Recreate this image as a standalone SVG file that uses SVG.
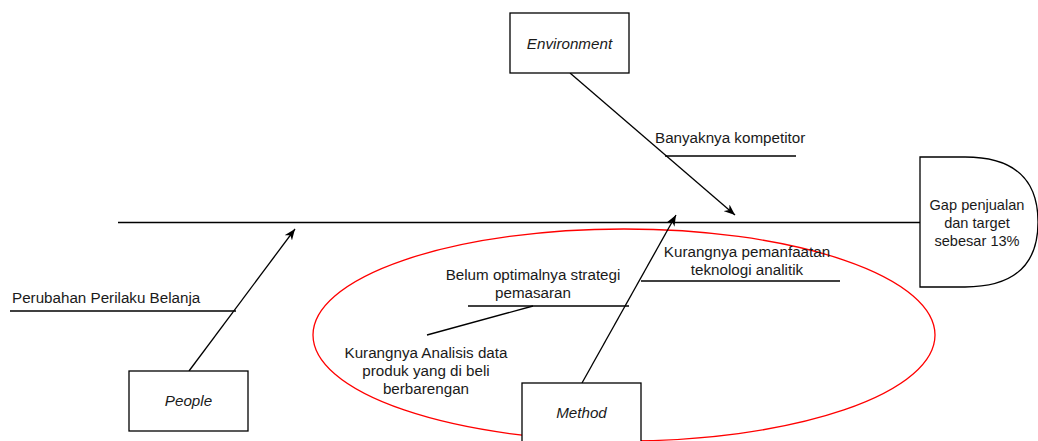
<svg xmlns="http://www.w3.org/2000/svg" width="1038" height="441" viewBox="0 0 1038 441">
  <style>
    .box { fill: #ffffff; stroke: #000000; stroke-width: 1.3; }
    .ln { fill: none; stroke: #000000; stroke-width: 1.3; }
    .arr { fill: none; stroke: #000000; stroke-width: 1.3; marker-end: url(#ah); }
    .t { font-family: "Liberation Sans", Arial, sans-serif; font-size: 15.2px; fill: #1a1a1a; }
    .c { text-anchor: middle; }
    .i { font-style: italic; }
    .ring { fill: none; stroke: #ff0000; stroke-width: 1.3; }
  </style>
  <defs>
    <marker id="ah" viewBox="0 0 10 8" refX="10" refY="4" markerWidth="11" markerHeight="9" markerUnits="userSpaceOnUse" orient="auto">
      <path d="M0,0 L10,4 L0,8 L3,4 Z" fill="#000000"/>
    </marker>
  </defs>
  <rect width="1038" height="441" fill="#ffffff"/>

  <ellipse id="focus-ring" class="ring" cx="624" cy="335" rx="311" ry="106"/>

  <g id="connectors">
    <line class="ln" x1="118" y1="222.5" x2="920" y2="222.5"/>
    <line class="arr" x1="189" y1="371" x2="295" y2="229"/>
    <line class="arr" x1="570" y1="73" x2="735" y2="215"/>
    <line class="arr" x1="582" y1="383" x2="676" y2="215"/>
    <line class="ln" x1="665" y1="156" x2="796" y2="156"/>
    <line class="ln" x1="10" y1="311" x2="236" y2="311"/>
    <line class="ln" x1="468" y1="306" x2="629" y2="306"/>
    <line class="ln" x1="533" y1="306" x2="427" y2="335"/>
    <line class="ln" x1="641" y1="281" x2="840" y2="281"/>
  </g>

  <g id="labels">
    <text class="t" x="655" y="143">Banyaknya kompetitor</text>
    <text class="t" x="12" y="303">Perubahan Perilaku Belanja</text>
    <text class="t c" x="533" y="280">Belum optimalnya strategi</text>
    <text class="t c" x="533" y="298">pemasaran</text>
    <text class="t c" x="747" y="257">Kurangnya pemanfaatan</text>
    <text class="t c" x="747" y="275">teknologi analitik</text>
    <text class="t c" x="426" y="358">Kurangnya Analisis data</text>
    <text class="t c" x="426" y="376">produk yang di beli</text>
    <text class="t c" x="426" y="394">berbarengan</text>
  </g>

  <g id="environment">
    <rect class="box" x="510" y="13" width="119" height="60"/>
    <text class="t c i" x="569.5" y="49">Environment</text>
  </g>

  <g id="people">
    <rect class="box" x="129" y="371" width="119" height="60"/>
    <text class="t c i" x="188.5" y="406">People</text>
  </g>

  <g id="method">
    <rect class="box" x="522" y="383" width="119" height="60"/>
    <text class="t c i" x="581.5" y="418">Method</text>
  </g>

  <g id="gap">
    <path class="box" d="M920,157 L965,157 Q1038,157 1038,222 Q1038,287 965,287 L920,287 Z"/>
    <text class="t c" style="font-size:14.6px" x="977" y="210">Gap penjualan</text>
    <text class="t c" style="font-size:14.6px" x="977" y="228">dan target</text>
    <text class="t c" style="font-size:14.6px" x="977" y="246">sebesar 13%</text>
  </g>
</svg>
